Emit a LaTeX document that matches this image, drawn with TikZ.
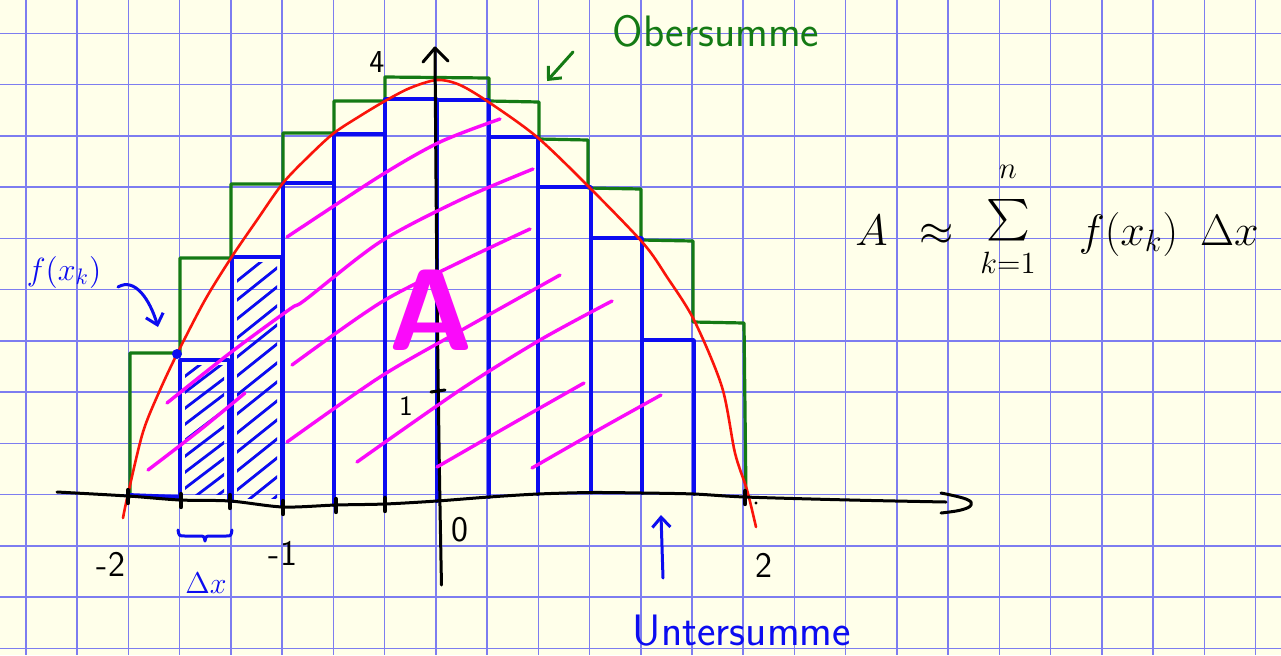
\RequirePackage{fix-cm}
\documentclass[tikz,border=0pt]{standalone}
\usepackage{amsmath}
\usetikzlibrary{arrows.meta}
\definecolor{paper}{RGB}{255,255,234}
\definecolor{gridc}{RGB}{125,125,240}
\definecolor{pgreen}{RGB}{20,122,20}
\definecolor{pblue}{RGB}{12,12,240}
\definecolor{pred}{RGB}{250,20,10}
\definecolor{pmag}{RGB}{250,10,250}
\begin{document}
\begin{tikzpicture}[x=0.5pt,y=-0.5pt,
  gridline/.style={draw=gridc,line width=0.75pt},
  pen/.style={line width=1.6pt,line cap=round,line join=round},
  upper/.style={pen,draw=pgreen},
  lower/.style={pen,draw=pblue,line width=1.9pt},
  curve/.style={pen,draw=pred,line width=1.3pt},
  hatchA/.style={pen,draw=pmag,line width=1.7pt},
  hatchB/.style={pen,draw=pblue,line width=1.4pt},
  axis/.style={pen,draw=black,line width=1.5pt},
  lab/.style={inner sep=0pt,font=\sffamily\fontsize{18}{18}\selectfont},
  hand/.style={inner sep=0pt,font=\sffamily\fontsize{22}{22}\selectfont},
  barb/.style={-{Straight Barb[length=5pt,width=9pt]}}
]
\fill[paper] (0,0) rectangle (1281,655);
\useasboundingbox (0,0) rectangle (1281,655);
% grid paper
\foreach \k in {0,...,24} \draw[gridline] ({26+51.23*\k},0) -- ({26+51.23*\k},655);
\foreach \k in {0,...,12} \draw[gridline] (0,{33.3+51.25*\k}) -- (1281,{33.3+51.25*\k});

% upper sum (Obersumme)
\draw[upper] (130,497) -- (130,353) -- (180,353) -- (180,258) -- (231,258) -- (231,184)
  -- (283,184) -- (283,133) -- (334,133) -- (334,101) -- (385,101) -- (385,77)
  -- (489,78) -- (489,101) -- (539,102) -- (539,139) -- (588,140) -- (588,188)
  -- (641,189) -- (641,240) -- (693,241) -- (693,322) -- (744,323) -- (746,497);

% lower sum (Untersumme)
\draw[lower] (130,495) -- (180,497);
\foreach \xa/\xb/\t/\ba/\bb in {180/229/360/500/501, 232/282/257/501/507, 283/334/183/507/505,
  334/385/134/505/504, 385/437/99/504/501, 437/489/100/501/497, 489/538/137/497/494,
  538/591/187/494/492, 591/642/238/492/493, 642/694/340/493/494}
  \draw[lower] (\xa,\ba) -- (\xa,\t) -- (\xb,\t) -- (\xb,\bb);

% hatching of two lower rectangles
\begin{scope}
  \clip (185,365) rectangle (224,494);
  \foreach \y in {380,396,...,540} \draw[hatchB] (180,\y) -- (230,{\y-38});
\end{scope}
\begin{scope}
  \clip (237,262) rectangle (277,498);
  \foreach \y in {285,304,...,560} \draw[hatchB] (232,\y) -- (282,{\y-40});
\end{scope}

% function graph
\draw[curve] plot[smooth,tension=0.5] coordinates {(123,518) (128,494) (143,432) (160,390)
  (178,352) (205,300) (231,258) (257,220) (283,183) (310,155) (334,133) (360,116) (385,101)
  (410,88) (437,80) (460,85) (490,103) (537,137) (587,185) (643,243) (667,277) (694,320)
  (722,387) (735,453) (747,490) (756,527)};

% axes
\draw[axis] plot[smooth,tension=0.5] coordinates {(57,492) (128,496) (180,500) (230,501)
  (283,507) (336,505) (385,504) (437,501) (489,497) (538,494) (591,492.5) (642,493)
  (694,494) (745,497) (850,500) (946,502)};
\draw[axis] plot[smooth,tension=0.7] coordinates {(941,493) (966,499) (971,505) (961,510) (941,513)};
\draw[axis] (441.5,585) .. controls (438,420) and (436,200) .. (435,48);
\draw[axis] (423,62) -- (435,48) -- (448,61);
\foreach \x/\b in {128/496,181/500,230/501,283/507,336/505,385/504,745/497}
  \draw[axis,line width=2.2pt] (\x,{\b-6}) -- (\x,{\b+7});
\draw[axis] (431,392) -- (445,390);
\fill (756,503) circle (1.6);

% area hatching
\foreach \pts in {
  {(287,237) (380,176) (440,142) (500,119)},
  {(167,403) (230,353) (290,309) (305,300) (380,242) (460,200) (533,169)},
  {(292,365) (380,303) (460,262) (530,229)},
  {(287,442) (380,377) (460,331) (560,275)},
  {(357,462) (460,390) (540,340) (612,301)},
  {(437,467) (510,425) (584,383)},
  {(532,468) (600,429) (661,395)},
  {(148,470) (200,430) (245,393)}}
  \draw[hatchA] plot[smooth,tension=0.5] coordinates \pts;
\node[inner sep=0pt,anchor=base,text=pmag,font=\sffamily\bfseries\fontsize{58}{58}\selectfont] (bigA) at (431,350) {A};

% marked point
\node[circle,fill=pblue,inner sep=0pt,minimum size=5pt] (dot) at (177,354) {};

% axis labels
\node[lab,font=\sffamily\fontsize{16}{16}\selectfont] (l4) at (377,62) {4};
\node[lab,font=\sffamily\fontsize{14}{14}\selectfont] (l1) at (406,406) {1};
\node[lab] (l0) at (460,530) {0};
\node[lab] (lm2) at (111,564) {-2};
\node[lab] (lm1) at (283,553) {-1};
\node[lab] (l2) at (764,565) {2};

% Delta x brace and label
\draw[pen,draw=pblue,line width=1.5pt] (178,530) .. controls (179,536) .. (185,536) -- (199,536)
  .. controls (204,536) .. (205,541) .. controls (206,536) .. (211,536) -- (226,536)
  .. controls (231,536) .. (232,530);
\node[inner sep=0pt,text=pblue,font=\fontsize{15}{15}\selectfont] (dx) at (206,583) {$\Delta x$};

% f(x_k)
\node[inner sep=0pt,text=pblue,font=\fontsize{16}{16}\selectfont] (fxk) at (64,272) {$f(x_k)$};
\coordinate (fxkfrom) at (118,287);
\coordinate (fxkto) at (158,327);
\draw[pen,draw=pblue,line width=1.5pt,barb] (fxkfrom) .. controls (135,277) and (150,300) .. (fxkto);

% Obersumme
\node[hand,text=pgreen,anchor=base] (ober) at (716,46) {Obersumme};
\coordinate (obfrom) at (573,52);
\coordinate (obto) at (547,81);
\draw[pen,draw=pgreen,line width=1.5pt,barb] (obfrom) -- (obto);

% Untersumme
\node[hand,text=pblue,anchor=base] (unter) at (742,645) {Untersumme};
\coordinate (utfrom) at (663,578);
\coordinate (utto) at (661,515);
\draw[pen,draw=pblue,line width=1.5pt,barb] (utfrom) -- (utto);

% formula
\node[inner sep=0pt,anchor=base west,font=\fontsize{22}{22}\selectfont] (sum) at (855,245)
  {$A\hspace{10pt}\approx\hspace{7pt}\mathop{\raisebox{7pt}{$\sum$}}\limits_{k=1}^{\raisebox{6pt}{$\scriptstyle n$}}\hspace{18pt}f(x_k)\hspace{11pt}\Delta x$};
\end{tikzpicture}
\end{document}
